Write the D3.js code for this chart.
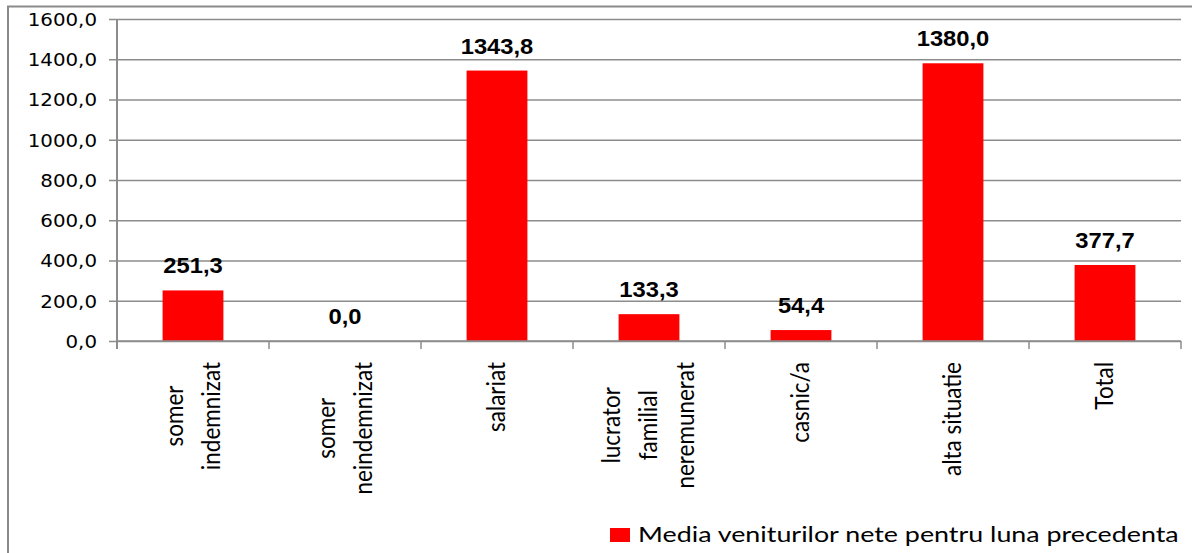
<!DOCTYPE html>
<html><head><meta charset="utf-8">
<script src="https://cdn.jsdelivr.net/npm/d3@7"></script>
<style>
html,body{margin:0;padding:0;background:#fff;overflow:hidden}
svg{display:block}
</style></head>
<body>
<svg id="chart" width="1192" height="553"></svg>
<script>
// ---- data ----
const categoryLines = [
  ["somer", "indemnizat"],
  ["somer", "neindemnizat"],
  ["salariat"],
  ["lucrator", "familial", "neremunerat"],
  ["casnic/a"],
  ["alta situatie"],
  ["Total"]
];
const values = [251.3, 0.0, 1343.8, 133.3, 54.4, 1380.0, 377.7];
const yTicks = [0, 200, 400, 600, 800, 1000, 1200, 1400, 1600];
const seriesName = "Media veniturilor nete pentru luna precedenta";

// ---- layout ----
const svg = d3.select("#chart");
const L = 117, R = 1181, T = 19, B = 341;
const gridColor = "#8c8c8c";
const fmt = d => d.toFixed(1).replace(".", ",");

const idx = categoryLines.map((_, i) => i);
const x = d3.scaleBand().domain(idx).range([L, R]).paddingInner(0.6).paddingOuter(0.3);
const y = d3.scaleLinear().domain([0, 1600]).range([B, T]);

// outer border
svg.append("rect").attr("x", 8).attr("y", 6.5).attr("width", 1200).attr("height", 600)
  .attr("fill", "none").attr("stroke", "#8a8a8a").attr("stroke-width", 2);

// gridlines
svg.append("g").attr("transform", `translate(${L},0)`)
  .call(d3.axisLeft(y).tickValues(yTicks).tickSize(-(R - L)).tickFormat(""))
  .call(g => g.select(".domain").remove())
  .call(g => g.selectAll("line").attr("stroke", gridColor).attr("stroke-width", 1.5));

// y axis with ticks/labels
const yAxis = svg.append("g").attr("transform", `translate(${L},0)`)
  .call(d3.axisLeft(y).tickValues(yTicks).tickSize(8).tickPadding(12).tickFormat(fmt));
yAxis.select(".domain").remove();
yAxis.selectAll("line").attr("stroke", gridColor).attr("stroke-width", 1.5);
yAxis.selectAll("text")
  .attr("font-family", "DejaVu Sans").attr("font-size", 18).attr("fill", "#000")
  .attr("dy", "0.36em")
  .each(function () {
    const t = d3.select(this);
    const xx = +t.attr("x");
    t.attr("x", 0).attr("transform", `translate(${xx},0) scale(1.1,1)`);
  });

// vertical axis line
svg.append("line").attr("x1", L).attr("x2", L).attr("y1", T).attr("y2", B + 8)
  .attr("stroke", gridColor).attr("stroke-width", 2);

// bars
svg.append("g").selectAll("rect").data(values).join("rect")
  .attr("x", (d, i) => x(i)).attr("width", x.bandwidth())
  .attr("y", d => y(d)).attr("height", d => y(0) - y(d))
  .attr("fill", "#ff0000");

// x axis line + ticks at band boundaries
svg.append("line").attr("x1", L).attr("x2", R).attr("y1", B).attr("y2", B)
  .attr("stroke", gridColor).attr("stroke-width", 1.5);
const step = x.step();
const tickPos = idx.map(i => x(i) + x.bandwidth() / 2 - step / 2)
  .concat([x(idx.length - 1) + x.bandwidth() / 2 + step / 2]);
svg.append("g").selectAll("line").data(tickPos).join("line")
  .attr("x1", d => d).attr("x2", d => d).attr("y1", B).attr("y2", B + 8)
  .attr("stroke", gridColor).attr("stroke-width", 1.5);

// value labels
svg.append("g").selectAll("text").data(values).join("text")
  .attr("text-anchor", "middle")
  .attr("transform", (d, i) => `translate(${x(i) + x.bandwidth() / 2},${y(d) - 17}) scale(1.08,1)`)
  .attr("font-family", "Liberation Sans").attr("font-weight", "bold").attr("font-size", 22)
  .attr("fill", "#000")
  .text(fmt);

// category labels (rotated, multi-line)
const lineGap = 37;
const labelTop = 362;
const catG = svg.append("g");
categoryLines.forEach((lines, i) => {
  const cx = x(i) + x.bandwidth() / 2;
  const g = catG.append("g");
  const texts = lines.map(s => g.append("text")
    .attr("font-family", "Lato").attr("font-size", 22.5).attr("fill", "#000")
    .attr("text-anchor", "middle").text(s));
  const maxLen = d3.max(texts, t => t.node().getComputedTextLength());
  const cy = labelTop + maxLen / 2;
  texts.forEach((t, k) => {
    const lx = cx + (k - (lines.length - 1) / 2) * lineGap;
    t.attr("transform", `translate(${lx + 8},${cy}) scale(1.15,1) rotate(-90)`);
  });
});

// legend
const leg = svg.append("g");
leg.append("rect").attr("x", 610).attr("y", 528).attr("width", 20).attr("height", 14).attr("fill", "#ff0000");
leg.append("text").attr("transform", "translate(638,541.5) scale(1.31,1)")
  .attr("font-family", "Lato").attr("font-size", 20.5).attr("fill", "#000")
  .text(seriesName);
</script>
</body></html>
